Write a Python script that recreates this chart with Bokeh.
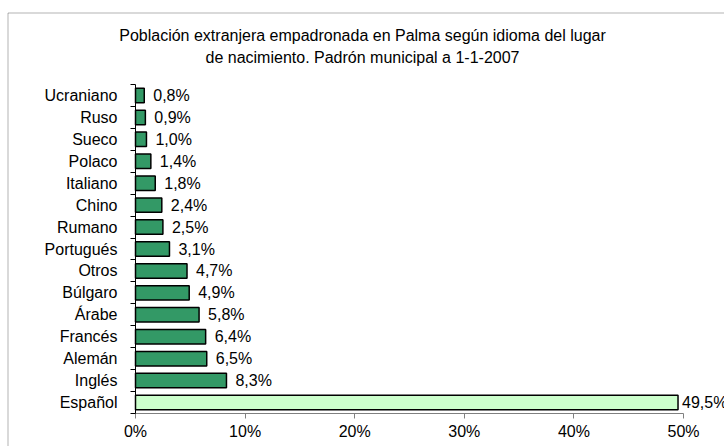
from bokeh.plotting import figure
from bokeh.models import Range1d, FixedTicker, ColumnDataSource, Label, BoxAnnotation
from bokeh.core.properties import value
from bokeh.embed import file_html
from bokeh.resources import INLINE

# Data (bottom to top)
idiomas = ["Español", "Inglés", "Alemán", "Francés", "Árabe", "Búlgaro", "Otros",
           "Portugués", "Rumano", "Chino", "Italiano", "Polaco", "Sueco", "Ruso", "Ucraniano"]
porcentajes = [49.5, 8.3, 6.5, 6.4, 5.8, 4.9, 4.7, 3.1, 2.5, 2.4, 1.8, 1.4, 1.0, 0.9, 0.8]
colores = ["#CCFFCC"] + ["#339966"] * 14
x_ticks = [0, 10, 20, 30, 40, 50]
x_tick_labels = ["0%", "10%", "20%", "30%", "40%", "50%"]
titulo_1 = "Población extranjera empadronada en Palma según idioma del lugar"
titulo_2 = "de nacimiento. Padrón municipal a 1-1-2007"

FONT = "Liberation Sans"
FS = "16px"

W, H = 724, 446
PX_X = 10.96      # pixels per percentage point
PX_Y = 21.933     # pixels per category row
X0, Y0 = 135, 413 # pixel position of the axes origin

n = len(idiomas)
centros = [i + 0.5 for i in range(n)]
etiquetas = [("%.1f" % v).replace(".", ",") + "%" for v in porcentajes]

x_start, x_end = -X0 / PX_X, (W - X0) / PX_X
y_start, y_end = -(H - Y0) / PX_Y, Y0 / PX_Y

# labels near the right end of the axis sit closer to their bar (as Excel does)
near_end = [v > 45 for v in porcentajes]
src_a = ColumnDataSource(dict(y=[c for c, f in zip(centros, near_end) if not f],
                              v=[v for v, f in zip(porcentajes, near_end) if not f],
                              lab=[l for l, f in zip(etiquetas, near_end) if not f]))
src_b = ColumnDataSource(dict(y=[c for c, f in zip(centros, near_end) if f],
                              v=[v for v, f in zip(porcentajes, near_end) if f],
                              lab=[l for l, f in zip(etiquetas, near_end) if f]))
src = ColumnDataSource(dict(y=centros, v=porcentajes, c=colores))

p = figure(width=W, height=H, output_backend="svg", toolbar_location=None,
           x_range=Range1d(x_start, x_end), y_range=Range1d(y_start, y_end),
           min_border_left=0, min_border_right=0, min_border_top=0, min_border_bottom=0)
p.outline_line_color = None
p.xgrid.visible = False
p.ygrid.visible = False
p.background_fill_color = "white"
p.border_fill_color = "white"

# outer chart border (left at px 7, top at px 12)
p.add_layout(BoxAnnotation(left=x_start + 7.5 / PX_X, right=x_end + 5,
                           top=y_end - 12.5 / PX_Y, bottom=y_start - 5,
                           fill_color=None, line_color="black", line_width=1))

p.hbar(y="y", left=0, right="v", height=0.66, fill_color="c", line_color="black",
       line_width=1.5, source=src)
for s, off in [(src_a, 9), (src_b, 4)]:
    p.text(x="v", y="y", text="lab", x_offset=off, text_baseline="middle", text_align="left",
           text_font=value(FONT), text_font_size=FS, text_color="black", source=s)

# x axis
xa = p.xaxis[0]
xa.fixed_location = 0
xa.ticker = FixedTicker(ticks=x_ticks)
xa.major_label_overrides = {t: l for t, l in zip(x_ticks, x_tick_labels)}
xa.bounds = (0, 50)
xa.axis_line_color = "#808080"
xa.major_tick_line_color = "#808080"
xa.major_tick_out = 5
xa.major_tick_in = 0
xa.minor_tick_line_color = None
xa.major_label_text_font = FONT
xa.major_label_text_font_size = FS
xa.major_label_text_color = "black"
xa.major_label_standoff = 4

# y axis
ya = p.yaxis[0]
ya.fixed_location = 0
ya.ticker = FixedTicker(ticks=centros, minor_ticks=list(range(n + 1)))
ya.major_label_overrides = {c: name for c, name in zip(centros, idiomas)}
ya.bounds = (0, n)
ya.axis_line_color = "black"
ya.major_tick_out = 0
ya.major_tick_in = 0
ya.minor_tick_out = 5
ya.minor_tick_in = 0
ya.minor_tick_line_color = "black"
ya.major_label_text_font = FONT
ya.major_label_text_font_size = FS
ya.major_label_text_color = "black"
ya.major_label_standoff = 13

# title
for txt, yy in [(titulo_1, (Y0 - 35) / PX_Y), (titulo_2, (Y0 - 57) / PX_Y)]:
    p.add_layout(Label(x=(362 - X0) / PX_X, y=yy, text=txt, text_align="center",
                       text_baseline="middle", text_font=FONT, text_font_size=FS,
                       text_color="black"))

open("out.html", "w").write(file_html(p, INLINE))
